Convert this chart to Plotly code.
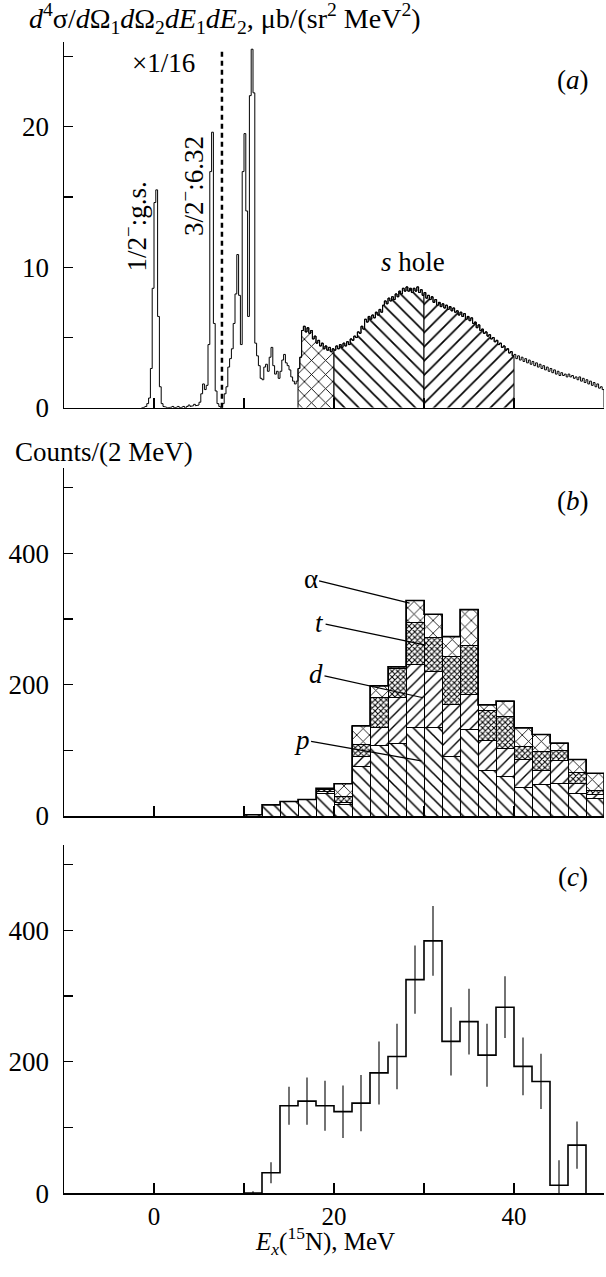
import numpy as np
import plotly.graph_objects as go

# ---------------- Panel (a): cross-section spectrum (0.2 MeV bins) ----------------
A_E0 = -1.4          # left edge of first bin, MeV
A_BIN = 0.2          # bin width, MeV
A_VALUES = (
    # -1.4 .. 0.8  (g.s. peak)
    [0.0, 0.05, 0.1, 0.3, 0.7, 2.8, 8.5, 14.6, 15.5, 6.5, 1.5, 0.3]
    # 1.0 .. 4.8
    + [0.1, 0.05, 0.0, 0.0, 0.05, 0.1, 0.0, 0.05, 0.1, 0.0,
       0.05, 0.1, 0.0, 0.1, 0.2, 0.1, 0.15, 0.25, 0.15, 0.2]
    # 5.0 .. 7.4  (6.32 MeV peak)
    + [0.4, 1.0, 1.7, 1.3, 1.6, 4.5, 16.8, 19.6, 6.0, 1.2, 0.3, 0.1, 0.0]
    # 7.6 .. 11.4
    + [0.3, 1.0, 1.5, 2.9, 3.5, 4.2, 6.0, 8.1, 10.9, 8.0,
       4.5, 16.8, 19.5, 14.0, 6.5, 22.2, 25.5, 22.4, 4.6, 3.7]
    # 11.6 .. 15.8
    + [3.0, 2.1, 2.0, 2.9, 3.1, 2.6, 3.6, 4.3, 3.0, 2.4, 2.6,
       2.1, 2.6, 3.4, 3.8, 3.2, 3.0, 2.7, 2.2, 1.9, 1.7, 1.9]
    # 16.0 .. 19.8
    + [2.8, 3.6, 5.5, 5.8, 5.4, 5.7, 5.3, 5.5, 4.9, 5.1,
       4.6, 4.8, 4.4, 4.6, 4.2, 4.4, 4.1, 4.3, 4.0, 4.2]
    # 20.0 .. 29.8
    + [4.1, 4.4, 4.2, 4.5, 4.3, 4.6, 4.4, 4.7, 4.5, 4.9,
       4.8, 5.1, 5.0, 5.4, 5.3, 5.8, 5.6, 6.3, 6.1, 6.5,
       6.3, 6.6, 6.4, 6.8, 6.6, 7.0, 6.8, 7.3, 7.6, 7.4,
       7.8, 7.6, 7.9, 7.7, 8.1, 7.9, 8.3, 8.1, 8.5, 8.3,
       8.6, 8.3, 8.5, 8.2, 8.5, 8.3, 8.6, 8.2, 8.4, 8.0]
    # 30.0 .. 39.8
    + [8.2, 7.8, 8.0, 7.7, 7.9, 7.5, 7.7, 7.3, 7.5, 7.2,
       7.4, 7.1, 7.3, 7.0, 7.2, 6.9, 7.1, 6.8, 6.9, 6.6,
       6.8, 6.5, 6.7, 6.3, 6.5, 6.2, 6.4, 6.0, 6.1, 5.7,
       5.9, 5.5, 5.6, 5.3, 5.4, 5.1, 5.2, 4.9, 5.0, 4.7,
       4.8, 4.5, 4.6, 4.3, 4.4, 4.1, 4.2, 3.9, 4.0, 3.7]
    # 40.0 .. 49.8
    + [3.8, 3.5, 3.7, 3.4, 3.6, 3.3, 3.5, 3.2, 3.4, 3.1,
       3.3, 3.0, 3.2, 2.9, 3.1, 2.8, 3.0, 2.7, 2.9, 2.6,
       2.8, 2.5, 2.7, 2.4, 2.6, 2.3, 2.5, 2.3, 2.4, 2.2,
       2.4, 2.2, 2.3, 2.1, 2.2, 2.0, 2.2, 1.9, 2.1, 1.8,
       2.0, 1.7, 1.9, 1.6, 1.8, 1.5, 1.7, 1.4, 1.5, 1.3]
)
A_REGIONS = [(16, 20, "x"), (20, 30, "\\"), (30, 40, "/")]   # s-hole decomposition
SCALE_BREAK_E = 7.55      # MeV, dashed line (x1/16 to the left)
SCALE_BREAK_TOP = 25.4

# ---------------- Panel (b): stacked counts per 2 MeV ----------------
B_CENTERS = [11, 13, 15, 17, 19, 21, 23, 25, 27, 29,
             31, 33, 35, 37, 39, 41, 43, 45, 47, 49]
B_P =     [2, 17, 22, 25, 35, 17, 76, 107, 110, 135,
           135, 90, 131, 70, 60, 44, 48, 49, 34, 26]
B_D =     [0, 0, 0, 0, 2, 4, 15, 28, 70, 95,
           85, 79, 54, 45, 43, 42, 22, 35, 15, 7]
B_T =     [0, 0, 0, 0, 3, 8, 18, 45, 44, 65,
           51, 74, 75, 46, 48, 20, 28, 16, 17, 6]
B_ALPHA = [0, 0, 0, 0, 2, 20, 28, 18, 3, 33,
           36, 30, 54, 8, 24, 28, 26, 11, 20, 26]
B_LABELS = ["α", "<i>t</i>", "<i>d</i>", "<i>p</i>"]
B_LABEL_POS = [(17.4, 361), (18.4, 294), (18.0, 216), (16.4, 116)]
B_LABEL_TIP = [(28.4, 324), (30.2, 260), (29.9, 180), (29.7, 84)]

# ---------------- Panel (c): sum with errors ----------------
C_CENTERS = [11, 13, 15, 17, 19, 21, 23, 25, 27, 29,
             31, 33, 35, 37, 39, 41, 43, 45, 47]
C_COUNTS = [0, 31, 133, 140, 133, 124, 137, 183, 208, 325,
            384, 231, 261, 210, 283, 193, 170, 12, 73]
C_ERR = [3, 16, 29, 36, 38, 40, 43, 48, 50, 52,
         53, 52, 50, 48, 47, 44, 42, 38, 36]

BIN_BC = 2.0

# ---------------- helpers ----------------
def step_path(lefts, width, values, close=True):
    xs, ys = [], []
    for x0, v in zip(lefts, values):
        xs += [x0, x0 + width]
        ys += [v, v]
    if close:
        xs = [xs[0]] + xs + [xs[-1]]
        ys = [0] + ys + [0]
    return xs, ys

FONT = "Liberation Serif, Times New Roman, serif"
FS = 27
W, H = 606, 1277
ML, MR = 64, 2

a_left = [round(A_E0 + A_BIN * i, 2) for i in range(len(A_VALUES))]

fig = go.Figure()

# ---- panel (a)
for lo, hi, shape in A_REGIONS:
    sel = [(x, v) for x, v in zip(a_left, A_VALUES) if lo - 1e-6 <= x < hi - 1e-6]
    xs, ys = step_path([s[0] for s in sel], A_BIN, [s[1] for s in sel])
    fig.add_trace(go.Scatter(
        x=xs, y=ys, mode="lines", fill="toself", fillcolor="white",
        fillpattern=dict(shape=shape, size=10, solidity=0.17, fillmode="replace",
                         fgcolor="black", bgcolor="white", fgopacity=1),
        line=dict(color="black", width=1), xaxis="x", yaxis="y",
        hoverinfo="skip", showlegend=False))

xs, ys = step_path(a_left, A_BIN, A_VALUES)
fig.add_trace(go.Scatter(x=xs, y=ys, mode="lines",
                         line=dict(color="black", width=1),
                         xaxis="x", yaxis="y", showlegend=False))
fig.add_trace(go.Scatter(x=[SCALE_BREAK_E, SCALE_BREAK_E], y=[0, SCALE_BREAK_TOP],
                         mode="lines", line=dict(color="black", width=2.5, dash="5px,4px"),
                         xaxis="x", yaxis="y", showlegend=False))

# ---- panel (b)
patterns = [
    (B_P, dict(shape="\\", size=9, solidity=0.17)),
    (B_D, dict(shape="/", size=8, solidity=0.17)),
    (B_T, dict(shape="x", size=4, solidity=0.45)),
    (B_ALPHA, dict(shape="x", size=9, solidity=0.17)),
]
for vals, pat in patterns:
    pat.update(fgcolor="black", bgcolor="white", fillmode="replace", fgopacity=1)
    fig.add_trace(go.Bar(x=B_CENTERS, y=vals, width=BIN_BC,
                         marker=dict(color="white", line=dict(color="black", width=1),
                                     pattern=pat),
                         xaxis="x2", yaxis="y2", showlegend=False))
b_tot = [p + d + t + a for p, d, t, a in zip(B_P, B_D, B_T, B_ALPHA)]
xs, ys = step_path([c - BIN_BC / 2 for c in B_CENTERS], BIN_BC, b_tot)
fig.add_trace(go.Scatter(x=xs, y=ys, mode="lines", line=dict(color="black", width=1.6),
                         xaxis="x2", yaxis="y2", showlegend=False))

# ---- panel (c)
xs, ys = step_path([c - BIN_BC / 2 for c in C_CENTERS], BIN_BC, C_COUNTS)
fig.add_trace(go.Scatter(x=xs, y=ys, mode="lines", line=dict(color="black", width=1.6),
                         xaxis="x3", yaxis="y3", showlegend=False))
fig.add_trace(go.Scatter(x=C_CENTERS, y=C_COUNTS, mode="markers",
                         marker=dict(size=1, color="rgba(0,0,0,0)"),
                         error_y=dict(type="data", array=C_ERR, width=0,
                                      thickness=1.1, color="black"),
                         xaxis="x3", yaxis="y3", showlegend=False))

# ---------------- layout ----------------
def px_to_py(py):
    return (H - py) / H

def px_to_px(px):
    return (px - ML) / (W - ML - MR)

dom_a = [px_to_py(412.7), px_to_py(42.7)]
dom_b = [px_to_py(825.7), px_to_py(473.3)]
dom_c = [px_to_py(1207.3), px_to_py(855.0)]

XT = [-10, 0, 10, 20, 30, 40, 50]
xcommon = dict(range=[-10, 50], showgrid=False, zeroline=False, showline=True,
               linecolor="black", linewidth=1.5, ticks="inside", ticklen=10,
               tickwidth=1.3, tickcolor="black", tickvals=XT,
               tickfont=dict(family=FONT, size=25, color="black"),
               ticklabelstandoff=0, domain=[0, 1])
ycommon = dict(showgrid=False, zeroline=False, showline=True, linecolor="black",
               linewidth=1.5, ticks="inside", ticklen=9, tickwidth=1.3,
               tickcolor="black", tickfont=dict(family=FONT, size=FS, color="black"),
               ticklabelstandoff=8)

layout = dict(
    width=W, height=H, autosize=False,
    margin=dict(l=ML, r=MR, t=0, b=0),
    paper_bgcolor="white", plot_bgcolor="white",
    barmode="stack", bargap=0,
    font=dict(family=FONT, size=FS, color="black"),
    xaxis=dict(xcommon, anchor="y", showticklabels=False),
    xaxis2=dict(xcommon, anchor="y2", showticklabels=False),
    xaxis3=dict(xcommon, anchor="y3", ticktext=["", "0", "", "20", "", "40", ""]),
    yaxis=dict(ycommon, domain=dom_a, range=[0, 26], anchor="x",
               tickvals=[0, 5, 10, 15, 20, 25], ticktext=["0", "", "10", "", "20", ""]),
    yaxis2=dict(ycommon, domain=dom_b, range=[0, 530], anchor="x2",
                tickvals=[0, 100, 200, 300, 400, 500],
                ticktext=["0", "", "200", "", "400", ""]),
    yaxis3=dict(ycommon, domain=dom_c, range=[0, 530], anchor="x3",
                tickvals=[0, 100, 200, 300, 400, 500],
                ticktext=["0", "", "200", "", "400", ""]),
)
fig.update_layout(**layout)

ann = []
def txt(text, x, y, xref, yref, xanchor="center", yanchor="middle", angle=0, size=FS):
    ann.append(dict(text=text, x=x, y=y, xref=xref, yref=yref, xanchor=xanchor,
                    yanchor=yanchor, showarrow=False, textangle=angle,
                    font=dict(family=FONT, size=size, color="black")))

txt("<i>d</i><sup>4</sup>σ/<i>d</i>Ω<sub>1</sub><i>d</i>Ω<sub>2</sub><i>dE</i><sub>1</sub>"
    "<i>dE</i><sub>2</sub>, μb/(sr<sup>2</sup> MeV<sup>2</sup>)",
    px_to_px(27), px_to_py(19), "paper", "paper", xanchor="left", size=28)
txt("Counts/(2 MeV)", px_to_px(13), px_to_py(457), "paper", "paper", xanchor="left")
txt("<i>E<sub>x</sub></i>(<sup>15</sup>N), MeV", px_to_px(325), px_to_py(1276),
    "paper", "paper", yanchor="bottom", size=25)
txt("(<i>a</i>)", 46.6, 23.3, "x", "y")
txt("(<i>b</i>)", 46.6, 480, "x2", "y2")
txt("(<i>c</i>)", 46.6, 481, "x3", "y3")
txt("×1/16", 1.1, 24.5, "x", "y")
txt("1/2<sup>−</sup>:g.s.", -2.1, 12.9, "x", "y", angle=-90, size=27)
txt("3/2<sup>−</sup>:6.32", 4.15, 15.8, "x", "y", angle=-90, size=27)
txt("<i>s</i> hole", 28.8, 10.4, "x", "y")

for label, (lx, ly), (tx, ty) in zip(B_LABELS, B_LABEL_POS, B_LABEL_TIP):
    ann.append(dict(text=label, x=tx, y=ty, ax=lx, ay=ly, xref="x2", yref="y2",
                    axref="x2", ayref="y2", showarrow=True, arrowhead=0,
                    arrowwidth=1.2, arrowcolor="black", standoff=0,
                    font=dict(family=FONT, size=FS, color="black")))

fig.update_layout(annotations=ann)
fig.write_html("out.html",
               config={"displayModeBar": False, "staticPlot": True},
               post_script="document.body.style.margin='0';"
                           "document.body.style.overflow='hidden';")
